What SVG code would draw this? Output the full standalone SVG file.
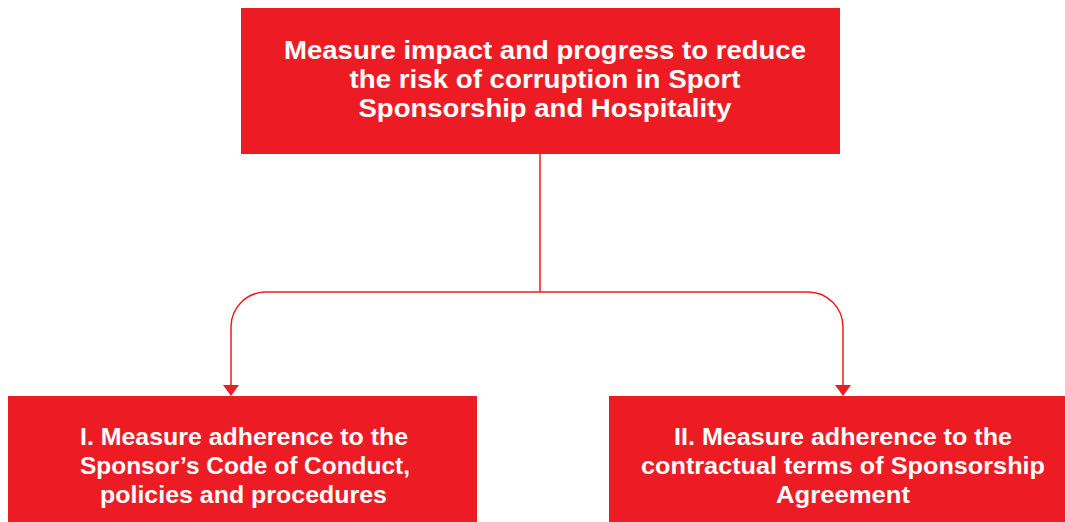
<svg xmlns="http://www.w3.org/2000/svg" width="1065" height="522" viewBox="0 0 1065 522">
<style>
.box{fill:#ED1C24}
.t{font-family:"Liberation Sans",Arial,sans-serif;font-weight:bold;fill:#fff;text-anchor:middle}
.top{font-size:26px}
.bot{font-size:24px}
.c{fill:none;stroke:#ED1C24;stroke-width:1.5}
</style>
<g id="top">
<rect class="box" x="241" y="8" width="599" height="146"/>
<text class="t top" x="545" y="59" textLength="522" lengthAdjust="spacingAndGlyphs">Measure impact and progress to reduce</text>
<text class="t top" x="545" y="88" textLength="391" lengthAdjust="spacingAndGlyphs">the risk of corruption in Sport</text>
<text class="t top" x="545" y="117" textLength="373" lengthAdjust="spacingAndGlyphs">Sponsorship and Hospitality</text>
</g>
<g id="left">
<rect class="box" x="8" y="396" width="469" height="126"/>
<text class="t bot" x="244" y="445" textLength="328" lengthAdjust="spacingAndGlyphs">I. Measure adherence to the</text>
<text class="t bot" x="245" y="474" textLength="330" lengthAdjust="spacingAndGlyphs">Sponsor’s Code of Conduct,</text>
<text class="t bot" x="243.5" y="503" textLength="287" lengthAdjust="spacingAndGlyphs">policies and procedures</text>
</g>
<g id="right">
<rect class="box" x="609" y="396" width="456" height="126"/>
<text class="t bot" x="843" y="445" textLength="338" lengthAdjust="spacingAndGlyphs">II. Measure adherence to the</text>
<text class="t bot" x="843" y="474" textLength="404" lengthAdjust="spacingAndGlyphs">contractual terms of Sponsorship</text>
<text class="t bot" x="843" y="503" textLength="134" lengthAdjust="spacingAndGlyphs">Agreement</text>
</g>
<g id="connectors">
<path class="c" d="M540,154 V292"/>
<path class="c" d="M540,292 H266 A35,35 0 0 0 231,327 V386"/>
<path class="c" d="M540,292 H808 A35,35 0 0 1 843,327 V386"/>
<path d="M223,385 L239,385 L231,396 Z" fill="#ED1C24"/>
<path d="M835,385 L851,385 L843,396 Z" fill="#ED1C24"/>
</g>
</svg>
